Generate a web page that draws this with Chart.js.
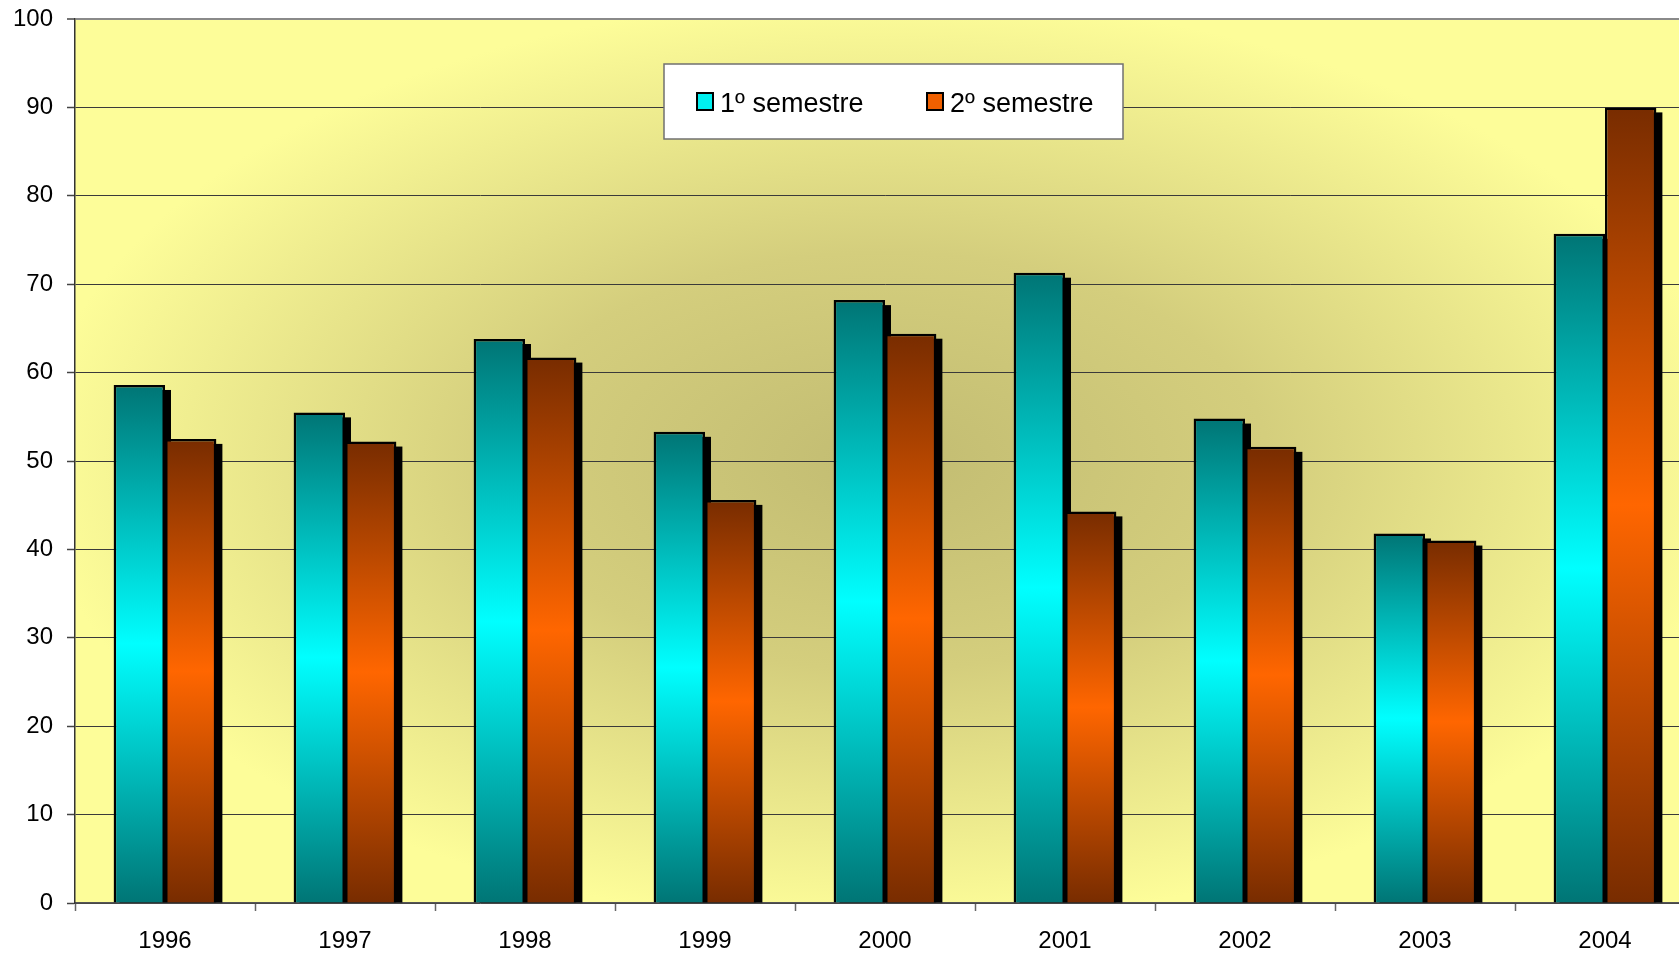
<!DOCTYPE html>
<html>
<head>
<meta charset="utf-8">
<script src="https://cdn.jsdelivr.net/npm/chart.js@4/dist/chart.umd.min.js"></script>
<style>
  html, body { margin: 0; padding: 0; background: #ffffff; overflow: hidden; }
  #wrap { position: relative; width: 1720px; height: 955px; }
</style>
</head>
<body>
<div id="wrap"><canvas id="c"></canvas></div>
<script>
const categories = ['1996', '1997', '1998', '1999', '2000', '2001', '2002', '2003', '2004'];
const firstSemester = [58.6, 55.5, 63.8, 53.3, 68.2, 71.3, 54.8, 41.8, 75.7];
const secondSemester = [52.5, 52.2, 61.7, 45.6, 64.4, 44.3, 51.6, 41.0, 90.0];
const seriesLabels = ['1º semestre', '2º semestre'];
const yTicks = [0, 10, 20, 30, 40, 50, 60, 70, 80, 90, 100];

const FONT = "'Liberation Sans', Arial, sans-serif";

function barGradient(stops, fallback) {
  return function (c) {
    const chart = c.chart;
    const ys = chart.scales && chart.scales.y;
    if (!ys || c.raw == null || c.type !== 'data') return fallback;
    const top = ys.getPixelForValue(c.raw);
    const bot = ys.getPixelForValue(0);
    if (!isFinite(top) || !isFinite(bot) || bot - top < 1) return fallback;
    const g = chart.ctx.createLinearGradient(0, top, 0, bot);
    g.addColorStop(0, stops[0]);
    g.addColorStop(0.5, stops[1]);
    g.addColorStop(1, stops[2]);
    return g;
  };
}

const bgPlugin = {
  id: 'bgPlugin',
  beforeDraw(chart) {
    const ca = chart.chartArea;
    if (!ca) return;
    const ctx = chart.ctx;
    const cx = (ca.left + ca.right) / 2, cy = (ca.top + ca.bottom) / 2;
    const rx = (ca.right - ca.left) / 2, ry = (ca.bottom - ca.top) / 2;
    ctx.save();
    ctx.fillStyle = '#FDFD99';
    ctx.fillRect(ca.left, ca.top, ca.right - ca.left, ca.bottom - ca.top);
    ctx.beginPath();
    ctx.rect(ca.left, ca.top, ca.right - ca.left, ca.bottom - ca.top);
    ctx.clip();
    ctx.translate(cx, cy);
    ctx.scale(rx / ry, 1);
    const g = ctx.createRadialGradient(0, 0, 0, 0, 0, ry * 1.05);
    g.addColorStop(0, '#C2BC72');
    g.addColorStop(0.45, '#D4CE7D');
    g.addColorStop(1, '#FDFD99');
    ctx.fillStyle = g;
    ctx.fillRect(-rx * 2, -ry * 2, rx * 4, ry * 4);
    ctx.restore();
  }
};

const shadowPlugin = {
  id: 'shadowPlugin',
  beforeDatasetsDraw(chart) {
    const ctx = chart.ctx;
    const ca = chart.chartArea;
    ctx.save();
    ctx.beginPath();
    ctx.rect(ca.left, ca.top, ca.right - ca.left + 10, ca.bottom - ca.top);
    ctx.clip();
    ctx.fillStyle = '#000000';
    chart.data.datasets.forEach((ds, i) => {
      const meta = chart.getDatasetMeta(i);
      meta.data.forEach(bar => {
        const p = bar.getProps(['x', 'y', 'base', 'width'], true);
        const left = p.x - p.width / 2 + 6;
        const top = p.y + 5;
        ctx.fillRect(left, top, p.width, p.base - top);
      });
    });
    ctx.restore();
  }
};

const legendPlugin = {
  id: 'boxLegend',
  afterDraw(chart) {
    const ca = chart.chartArea;
    const ctx = chart.ctx;
    const bx = ca.left + 589, by = ca.top + 45, bw = 459, bh = 75;
    ctx.save();
    ctx.fillStyle = '#ffffff';
    ctx.fillRect(bx, by, bw, bh);
    ctx.strokeStyle = '#707070';
    ctx.lineWidth = 1.5;
    ctx.strokeRect(bx, by, bw, bh);
    const swatches = ['#00F0F0', '#F06000'];
    const offsets = [33, 263];
    ctx.font = '27px ' + FONT;
    ctx.textBaseline = 'alphabetic';
    chart.data.datasets.forEach((ds, i) => {
      const sx = bx + offsets[i];
      const sy = by + 29;
      ctx.fillStyle = swatches[i];
      ctx.fillRect(sx, sy, 16, 17);
      ctx.strokeStyle = '#000000';
      ctx.lineWidth = 2;
      ctx.strokeRect(sx, sy, 16, 17);
      ctx.fillStyle = '#000000';
      ctx.fillText(ds.label, sx + 23, by + 48);
    });
    ctx.restore();
  }
};

new Chart(document.getElementById('c'), {
  type: 'bar',
  data: {
    labels: categories,
    datasets: [
      {
        label: seriesLabels[0],
        data: firstSemester,
        backgroundColor: barGradient(['#007575', '#00FFFF', '#007575'], '#00C8C8'),
        borderColor: '#000000',
        borderWidth: 2.5,
        categoryPercentage: 0.571,
        barPercentage: 1.0
      },
      {
        label: seriesLabels[1],
        data: secondSemester,
        backgroundColor: barGradient(['#782C00', '#FF6600', '#782C00'], '#E05800'),
        borderColor: '#000000',
        borderWidth: 2.5,
        categoryPercentage: 0.571,
        barPercentage: 1.0
      }
    ]
  },
  options: {
    responsive: true,
    maintainAspectRatio: false,
    animation: false,
    devicePixelRatio: 1,
    layout: { padding: { top: 19, right: 25, left: 0, bottom: 0 } },
    plugins: {
      legend: { display: false },
      tooltip: { enabled: false },
      title: { display: false }
    },
    scales: {
      x: {
        offset: true,
        grid: {
          offset: true,
          drawOnChartArea: false,
          drawTicks: true,
          tickLength: 8,
          tickColor: '#666666',
          tickWidth: 1.5
        },
        border: { display: true, color: '#555555', width: 1.5 },
        ticks: {
          color: '#000000',
          font: { family: FONT, size: 24 },
          padding: 16,
          maxRotation: 0,
          autoSkip: false
        },
        afterFit(scale) { scale.height = 52; scale.paddingLeft = 0; scale.paddingRight = 0; }
      },
      y: {
        min: 0,
        max: 100,
        afterBuildTicks(scale) { scale.ticks = yTicks.map(v => ({ value: v })); },
        grid: {
          color: c => (c.tick && c.tick.value === 100) ? '#8a8a8a' : '#3a3a3a',
          lineWidth: c => (c.tick && c.tick.value === 100) ? 2 : 1,
          drawTicks: true,
          tickLength: 8,
          tickColor: '#444444',
          tickWidth: 1.5
        },
        border: { display: true, color: '#333333', width: 1.5 },
        ticks: {
          color: '#000000',
          font: { family: FONT, size: 24 },
          padding: 14,
          stepSize: 10
        },
        afterFit(scale) { scale.width = 75; scale.paddingTop = 0; scale.paddingBottom = 0; }
      }
    }
  },
  plugins: [bgPlugin, shadowPlugin, legendPlugin]
});
</script>
</body>
</html>
